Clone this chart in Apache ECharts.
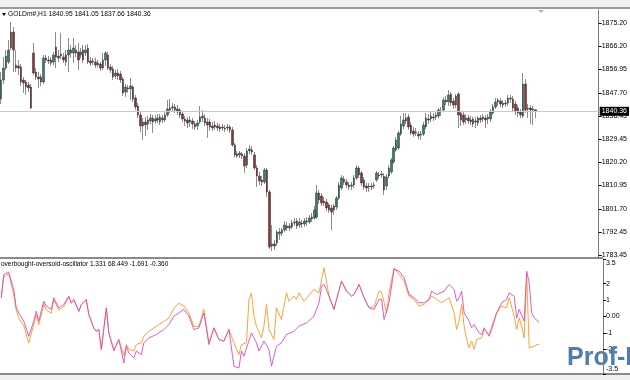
<!DOCTYPE html>
<html><head><meta charset="utf-8">
<script src="https://cdn.jsdelivr.net/npm/echarts@6/dist/echarts.min.js"></script>
<style>html,body{margin:0;padding:0;background:#fff}#c{width:630px;height:380px}</style>
</head><body><div id="c"></div>
<script>
// H1 bars of GOLDm#
const opens = [1845.24,1852.76,1857.51,1859.89,1865.43,1871.77,1858.70,1858.30,1857.91,1852.76,1851.97,1850.78,1849.99,1863.45,1855.93,1853.95,1853.95,1851.97,1861.47,1860.68,1860.68,1859.89,1865.83,1862.26,1862.26,1861.87,1862.66,1862.66,1864.64,1863.45,1864.64,1863.85,1862.66,1864.64,1863.45,1865.43,1860.28,1859.89,1859.89,1858.70,1859.10,1857.51,1860.68,1862.66,1857.91,1857.12,1854.34,1855.53,1855.14,1853.16,1848.01,1849.59,1849.20,1849.99,1845.63,1842.46,1838.90,1834.54,1836.13,1835.34,1836.52,1837.71,1836.52,1836.92,1836.13,1837.71,1836.92,1838.90,1840.88,1841.67,1842.07,1841.28,1840.88,1839.30,1837.32,1836.92,1836.13,1836.52,1835.34,1834.54,1836.13,1837.71,1837.71,1836.13,1836.13,1834.54,1834.15,1834.54,1834.15,1833.75,1833.75,1833.75,1834.15,1832.96,1827.02,1823.46,1823.06,1823.46,1822.66,1819.10,1824.64,1825.04,1823.06,1817.91,1814.74,1813.16,1812.37,1817.12,1808.41,1787.02,1787.82,1788.21,1791.78,1792.17,1793.36,1794.94,1794.15,1794.55,1796.13,1796.92,1795.34,1796.13,1795.74,1796.92,1796.53,1797.72,1798.11,1798.51,1808.01,1806.82,1804.84,1804.45,1803.26,1802.07,1801.28,1802.47,1806.03,1809.99,1813.56,1812.37,1811.18,1810.78,1811.18,1813.95,1817.91,1815.93,1813.16,1810.78,1810.39,1810.78,1810.78,1813.16,1815.14,1815.14,1814.74,1810.78,1814.74,1816.33,1820.29,1825.04,1825.83,1831.38,1834.54,1836.52,1838.11,1834.94,1832.56,1831.77,1831.38,1830.98,1831.38,1834.15,1837.32,1837.32,1838.11,1838.11,1838.50,1840.48,1840.88,1844.05,1844.05,1847.22,1844.44,1842.86,1847.22,1839.69,1838.90,1836.92,1837.71,1836.92,1835.34,1836.52,1835.73,1837.71,1837.32,1837.71,1837.32,1837.32,1839.69,1842.07,1844.05,1844.44,1843.65,1843.26,1843.65,1845.24,1845.24,1843.26,1841.67,1840.09,1838.50,1851.18,1841.28,1841.67,1841.28,1840.95];
const highs = [1855.93,1861.87,1864.64,1868.60,1875.73,1873.75,1864.64,1860.68,1859.10,1853.95,1852.76,1851.97,1851.18,1867.41,1857.51,1855.93,1855.14,1862.66,1862.66,1862.26,1861.87,1863.85,1871.77,1864.64,1871.37,1863.45,1864.64,1869.39,1866.62,1869.39,1866.62,1867.41,1865.43,1866.62,1866.62,1867.02,1861.87,1861.47,1861.47,1860.68,1859.89,1863.45,1864.24,1863.85,1859.10,1858.30,1856.72,1857.12,1856.32,1853.95,1851.18,1850.78,1853.55,1850.78,1846.82,1843.65,1840.09,1837.71,1838.11,1838.50,1839.30,1838.90,1838.90,1839.30,1839.30,1838.90,1840.09,1844.84,1845.24,1843.65,1843.26,1842.86,1841.67,1840.48,1838.50,1838.11,1838.50,1837.71,1836.52,1836.92,1842.46,1840.88,1839.30,1837.71,1837.32,1836.13,1836.52,1835.73,1835.34,1835.34,1834.94,1835.34,1834.94,1834.15,1827.81,1824.64,1824.64,1824.25,1823.85,1825.83,1827.02,1826.62,1824.25,1819.10,1816.33,1814.74,1817.91,1817.91,1809.20,1795.34,1789.40,1793.36,1794.15,1794.15,1796.92,1796.53,1796.13,1797.32,1798.11,1798.11,1798.11,1797.32,1798.11,1798.51,1799.30,1800.09,1802.86,1811.18,1809.20,1808.01,1806.43,1805.64,1804.05,1803.26,1803.66,1806.82,1812.37,1815.14,1814.74,1813.56,1812.37,1812.37,1815.14,1819.10,1818.70,1816.72,1814.35,1811.97,1811.97,1811.97,1812.37,1816.72,1816.33,1816.72,1815.93,1815.54,1819.10,1821.87,1826.62,1830.19,1832.56,1838.50,1839.69,1839.69,1839.30,1836.13,1834.15,1833.75,1832.56,1832.56,1836.13,1839.69,1839.30,1840.09,1839.69,1840.48,1841.67,1842.07,1846.03,1846.42,1848.80,1848.01,1845.63,1847.22,1848.01,1840.48,1840.09,1839.30,1838.90,1838.50,1838.11,1838.11,1838.50,1838.90,1839.30,1838.90,1839.30,1841.28,1843.26,1845.63,1845.63,1845.63,1844.84,1844.84,1846.82,1846.82,1846.42,1844.44,1842.86,1841.28,1855.53,1853.16,1843.26,1842.86,1842.46,1841.05];
const lows = [1843.26,1851.18,1856.72,1859.10,1864.64,1855.93,1855.93,1854.74,1850.38,1847.61,1846.82,1848.01,1841.28,1854.74,1852.76,1849.59,1850.38,1851.18,1859.49,1859.10,1858.30,1858.70,1857.51,1859.89,1861.08,1859.49,1858.30,1855.93,1861.47,1859.49,1861.87,1856.72,1861.47,1859.49,1862.26,1859.10,1858.30,1858.70,1857.51,1857.91,1856.32,1856.72,1858.30,1856.72,1855.53,1852.76,1853.16,1852.76,1851.57,1846.42,1846.03,1847.61,1844.84,1844.05,1840.88,1837.71,1832.17,1829.00,1830.58,1832.96,1835.34,1831.77,1835.34,1835.73,1834.94,1835.73,1836.13,1838.11,1839.69,1840.48,1839.69,1838.90,1837.71,1836.13,1834.54,1833.75,1834.15,1833.36,1832.96,1832.96,1835.34,1836.13,1834.54,1829.79,1832.56,1832.56,1832.96,1832.56,1832.17,1832.56,1832.17,1832.56,1831.77,1826.23,1822.27,1821.87,1821.87,1821.48,1815.93,1817.91,1823.46,1823.06,1817.12,1810.39,1811.18,1810.78,1811.58,1806.43,1785.84,1785.04,1785.44,1787.02,1789.40,1790.98,1792.57,1792.96,1792.96,1793.76,1794.94,1793.76,1794.15,1794.15,1794.55,1794.94,1795.74,1796.53,1797.32,1797.72,1803.66,1802.86,1802.86,1800.88,1800.09,1793.36,1799.30,1801.28,1805.24,1809.20,1811.18,1809.99,1809.20,1809.20,1809.99,1813.16,1813.95,1810.78,1809.20,1808.41,1808.41,1809.20,1809.60,1812.37,1813.56,1813.95,1807.22,1809.20,1813.95,1815.54,1819.50,1824.25,1825.04,1830.58,1833.36,1835.34,1832.96,1830.98,1830.19,1830.58,1829.40,1829.00,1830.58,1833.36,1835.34,1836.13,1836.52,1836.92,1837.71,1838.50,1840.09,1842.86,1842.46,1842.46,1841.28,1841.67,1833.75,1834.54,1834.94,1835.34,1835.34,1834.94,1834.15,1833.75,1834.54,1835.73,1836.13,1833.75,1835.34,1836.13,1838.90,1841.28,1842.46,1842.07,1841.67,1842.07,1842.46,1843.65,1840.09,1838.90,1838.11,1837.71,1837.71,1839.69,1837.71,1835.34,1834.94,1837.66];
const closes = [1852.76,1857.51,1862.26,1864.64,1871.77,1864.64,1857.51,1857.51,1851.97,1851.57,1849.99,1849.59,1841.67,1855.53,1853.95,1853.16,1851.97,1861.47,1860.68,1860.28,1859.49,1862.66,1861.87,1861.47,1863.06,1860.68,1859.89,1864.64,1863.45,1865.43,1863.45,1860.68,1863.85,1860.68,1864.64,1859.89,1859.49,1860.28,1858.70,1859.49,1857.51,1860.68,1863.45,1857.51,1856.72,1853.95,1855.53,1854.34,1852.76,1847.61,1849.99,1849.20,1850.38,1845.24,1842.07,1838.90,1834.54,1836.13,1834.94,1836.92,1837.71,1836.13,1837.32,1837.71,1838.11,1836.92,1838.90,1841.28,1841.67,1842.07,1840.88,1840.09,1838.90,1837.32,1836.52,1835.73,1836.92,1835.34,1834.15,1835.73,1838.11,1838.50,1835.73,1834.94,1834.15,1833.75,1834.94,1833.75,1833.36,1834.15,1833.36,1834.15,1832.96,1827.02,1823.06,1822.66,1823.85,1822.66,1818.70,1824.64,1825.44,1824.25,1817.91,1814.74,1812.76,1812.37,1817.12,1808.41,1786.63,1787.82,1787.02,1792.57,1792.57,1793.36,1795.34,1794.15,1794.94,1796.13,1796.53,1794.94,1796.53,1795.74,1796.92,1796.53,1798.11,1798.51,1801.28,1808.01,1805.24,1804.05,1804.05,1802.07,1801.28,1800.49,1802.86,1806.03,1811.18,1813.95,1812.37,1811.18,1810.39,1811.18,1813.95,1817.91,1815.14,1811.97,1810.39,1809.99,1810.78,1810.39,1811.18,1815.93,1814.74,1815.54,1809.20,1814.35,1817.91,1821.08,1825.83,1829.00,1831.77,1835.34,1836.92,1837.71,1834.15,1831.77,1831.38,1832.17,1830.58,1831.38,1834.94,1837.71,1836.92,1838.50,1837.71,1838.90,1840.88,1840.09,1844.84,1844.84,1846.82,1843.65,1842.86,1846.42,1838.90,1836.92,1836.13,1837.71,1836.52,1836.13,1837.32,1836.13,1837.71,1836.92,1838.11,1836.92,1838.11,1840.09,1842.07,1844.05,1844.84,1843.26,1842.86,1843.65,1845.63,1845.63,1841.67,1840.09,1839.69,1838.90,1851.18,1840.88,1841.67,1840.88,1840.88,1840.36];
// oscillator readings [bar, value]
const oscOrange = [[0,1.14],[1,2.4],[3,2.6],[5,1.3],[6,0.4],[7,-0.1],[9,-0.55],[11,-1.6],[13,-0.5],[14,0.1],[15,-0.5],[16,0.1],[17,0.75],[18,0.4],[20,0.2],[21,1.0],[23,0.4],[25,0.6],[27,1.2],[28,0.8],[29,1.0],[31,0.3],[32,0.7],[34,1.0],[35,0.1],[37,-0.7],[38,-0.9],[39,-0.8],[40,-2.0],[42,0.5],[43,-1.0],[45,-2.0],[47,-1.4],[49,-2.4],[50,-1.7],[51,-2.0],[53,-2.1],[54,-1.7],[56,-1.6],[57,-1.2],[59,-0.9],[62,-0.6],[65,-0.3],[67,-0.1],[69,0.5],[71,0.8],[73,0.65],[75,0.2],[77,-0.6],[79,-0.6],[81,0.43],[83,-1.6],[85,-0.69],[87,-1.4],[89,-1.5],[91,-0.79],[93,-1.6],[95,-2.32],[96,-1.71],[98,-1.6],[99,1.04],[100,1.44],[101,0.02],[102,-0.59],[104,-1.3],[105,-0.59],[106,0.73],[107,-0.79],[109,-1.4],[110,0.53],[112,-0.18],[114,1.44],[115,0.93],[117,1.24],[118,1.04],[119,1.44],[121,0.93],[125,1.65],[127,1.44],[129,2.97],[131,1.24],[133,0.43],[134,1.04],[136,2.15],[138,1.54],[140,1.24],[141,1.34],[143,1.95],[145,1.14],[147,0.53],[149,0.6],[151,1.54],[152,1.5],[154,0.22],[155,1.44],[157,2.97],[159,2.56],[161,2.15],[163,1.24],[165,1.04],[167,0.63],[169,0.73],[171,1.04],[172,1.24],[174,1.04],[176,0.84],[178,1.04],[179,1.14],[181,0.22],[182,-0.79],[183,-0.28],[184,0.73],[185,-0.59],[186,-1.4],[187,-1.91],[188,-1.5],[189,-2.0],[190,-1.4],[192,-1.3],[193,-0.79],[195,-1.1],[196,-0.59],[198,0.22],[200,0.63],[202,0.53],[203,1.14],[205,0.02],[206,-0.79],[207,-0.08],[208,-0.59],[209,-1.3],[210,2.56],[211,-1.91],[213,-1.81],[214,-1.71],[215,-1.691]];
const oscMagenta = [[0,1.14],[1,2.56],[3,2.70],[5,1.65],[6,0.53],[7,0.22],[9,-0.28],[11,-1.2],[13,-0.28],[14,0.32],[15,-0.28],[16,0.32],[17,0.93],[18,0.63],[20,0.43],[21,1.14],[23,0.53],[25,0.73],[27,1.24],[28,0.84],[29,1.04],[31,0.32],[32,0.73],[34,1.04],[35,0.12],[37,-0.69],[38,-0.9],[39,-0.79],[40,-2.0],[42,0.53],[43,-1.0],[45,-2.1],[47,-1.4],[49,-2.83],[50,-1.81],[51,-2.22],[53,-2.52],[54,-2.1],[56,-2.32],[57,-1.6],[59,-1.3],[62,-1.1],[65,-0.79],[67,-0.49],[69,0.02],[71,0.22],[73,0.43],[75,0.02],[77,-0.79],[79,-0.69],[81,0.22],[83,-1.71],[85,-0.69],[87,-1.4],[89,-1.5],[91,-0.79],[93,-3.03],[95,-3.13],[96,-2.1],[97,-2.42],[100,-1.0],[102,-1.6],[103,-2.1],[105,-1.5],[107,-2.0],[108,-3.03],[110,-1.81],[112,-1.6],[114,-1.1],[117,-0.9],[119,-0.59],[122,-0.39],[125,0.02],[127,0.84],[128,1.85],[129,1.95],[131,1.24],[133,0.43],[134,1.04],[136,2.15],[138,1.54],[140,1.24],[141,1.34],[143,1.95],[145,1.14],[147,0.53],[149,0.43],[151,1.04],[152,1.04],[153,-0.18],[155,0.84],[157,2.87],[159,2.76],[161,2.36],[163,1.34],[165,1.14],[167,0.84],[169,0.84],[171,1.04],[172,1.54],[174,1.34],[177,1.54],[179,1.95],[181,1.65],[182,0.93],[183,1.14],[184,1.54],[185,0.22],[187,-0.28],[188,-0.69],[189,-0.49],[191,-1.0],[192,-1.1],[193,-0.69],[195,-1.2],[196,-0.79],[198,0.22],[200,0.84],[202,1.04],[203,1.44],[205,1.24],[206,-0.08],[207,0.43],[209,-0.28],[210,2.76],[211,2.05],[212,0.22],[213,-0.08],[215,-0.36]];
const priceTicks = [1783.45,1792.45,1801.70,1810.95,1820.20,1829.45,1838.45,1847.70,1856.95,1866.20,1875.20];
const oscTicks = [-3.5,-2,-1,0,1,2,3.5];
const lastPrice = 1840.36;
const titleText = 'GOLDm#,H1 1840.95 1841.05 1837.66 1840.36';
const oscText = 'overbought-oversold-oscillator 1.331 68.449 -1.691 -0.360';

const times = closes.map((_, i) => 'b' + i);
const SLOTS = 241;
const cats = times.concat(Array.from({length: SLOTS - times.length}, (_, k) => 'e' + k));
const candles = closes.map((c, i) => [opens[i], c, lows[i], highs[i]]);
const bodies = closes.map((c, i) => [opens[i], c, Math.min(opens[i], c), Math.max(opens[i], c)]);

const FONT = 'Liberation Sans';
const chart = echarts.init(document.getElementById('c'), null, {renderer: 'canvas'});
chart.setOption({
  animation: false,
  backgroundColor: '#ffffff',
  grid: [
    {left: 0, top: 10, width: 603, height: 248},
    {left: 0, top: 259, width: 603, height: 115}
  ],
  xAxis: [
    {type: 'category', gridIndex: 0, data: cats, boundaryGap: true, axisLine: {show: false}, axisTick: {show: false}, axisLabel: {show: false}, splitLine: {show: false}},
    {type: 'category', gridIndex: 1, data: cats, boundaryGap: true, axisLine: {show: false}, axisTick: {show: false}, axisLabel: {show: false}, splitLine: {show: false}}
  ],
  yAxis: [
    {type: 'value', gridIndex: 0, position: 'right', min: 1782.26, max: 1880.48, scale: true,
      axisLine: {show: true, lineStyle: {color: '#7a7a7a', width: 1}},
      axisTick: {show: true, length: 3, lineStyle: {color: '#000'}, customValues: priceTicks},
      axisLabel: {show: true, margin: 3, fontSize: 7, fontFamily: FONT, color: '#000', customValues: priceTicks, formatter: v => v.toFixed(2)},
      splitLine: {show: false}},
    {type: 'value', gridIndex: 1, position: 'right', min: -3.5, max: 3.5,
      axisLine: {show: true, lineStyle: {color: '#7a7a7a', width: 1}},
      axisTick: {show: true, length: 3, lineStyle: {color: '#000'}, customValues: oscTicks},
      axisLabel: {show: true, margin: 3, fontSize: 7, fontFamily: FONT, color: '#000', customValues: oscTicks,
        formatter: v => v === 3.5 ? '{t|3.5}' : v === -3.5 ? '{b|-3.5}' : v === 0 ? '0.00' : String(v),
        rich: {
          t: {fontSize: 7, fontFamily: FONT, color: '#000', padding: [8, 0, 0, 0]},
          b: {fontSize: 7, fontFamily: FONT, color: '#000', padding: [0, 0, 10, 0]}
        }},
      splitLine: {show: false}}
  ],
  series: [
    {type: 'candlestick', xAxisIndex: 0, yAxisIndex: 0, data: candles, barWidth: 1, z: 2,
      itemStyle: {color: '#8c8c8c', color0: '#8c8c8c', borderColor: '#8c8c8c', borderColor0: '#8c8c8c', borderWidth: 1},
      markLine: {silent: true, symbol: ['none', 'none'], animation: false,
        lineStyle: {color: '#c8c8c8', type: 'solid', width: 1},
        label: {show: true, position: 'end', formatter: lastPrice.toFixed(2), backgroundColor: '#000', color: '#fff',
          fontSize: 7, fontFamily: FONT, padding: [1, 2, 1, 2], distance: 1},
        data: [{yAxis: lastPrice}]}},
    {type: 'candlestick', xAxisIndex: 0, yAxisIndex: 0, data: bodies, barWidth: 2, z: 3,
      itemStyle: {color: '#2d8272', color0: '#96302e', borderColor: '#2a2a2a', borderColor0: '#2a2a2a', borderWidth: 0.5}},
    {type: 'line', xAxisIndex: 1, yAxisIndex: 1, data: oscOrange, connectNulls: true, symbol: 'none',
      lineStyle: {color: '#ffa235', width: 1}},
    {type: 'line', xAxisIndex: 1, yAxisIndex: 1, data: oscMagenta, connectNulls: true, symbol: 'none',
      lineStyle: {color: '#d94bbf', width: 1, opacity: 0.9}}
  ],
  graphic: [
    {type: 'rect', shape: {x: 0, y: 0, width: 630, height: 7}, style: {fill: '#f0f0f0'}, silent: true},
    {type: 'rect', shape: {x: 0, y: 7, width: 630, height: 2}, style: {fill: '#9a9a9a'}, silent: true},
    {type: 'rect', shape: {x: 0, y: 257, width: 603, height: 2}, style: {fill: '#8a8a8a'}, silent: true},
    {type: 'rect', shape: {x: 0, y: 373, width: 630, height: 2}, style: {fill: '#8a8a8a'}, silent: true},
    {type: 'rect', shape: {x: 0, y: 375, width: 630, height: 5}, style: {fill: '#f0f0f0'}, silent: true},
    {type: 'polygon', shape: {points: [[538, 10], [544, 10], [541, 13]]}, style: {fill: '#b0b0b0'}, silent: true},
    {type: 'polygon', shape: {points: [[2, 13], [6, 13], [4, 16]]}, style: {fill: '#000'}, silent: true},
    {type: 'text', x: 8, y: 11, style: {text: titleText, fontSize: 6.7, fontFamily: FONT, fill: '#000'}, silent: true},
    {type: 'text', x: 1, y: 261, style: {text: oscText, fontSize: 6.5, fontFamily: FONT, fill: '#000'}, silent: true},
    {type: 'text', x: 567, y: 346, style: {text: 'Prof-F', fontSize: 25, fontWeight: 'bold', fontFamily: FONT, fill: '#3b6fa6', opacity: 0.9}, silent: true}
  ]
});
</script></body></html>
